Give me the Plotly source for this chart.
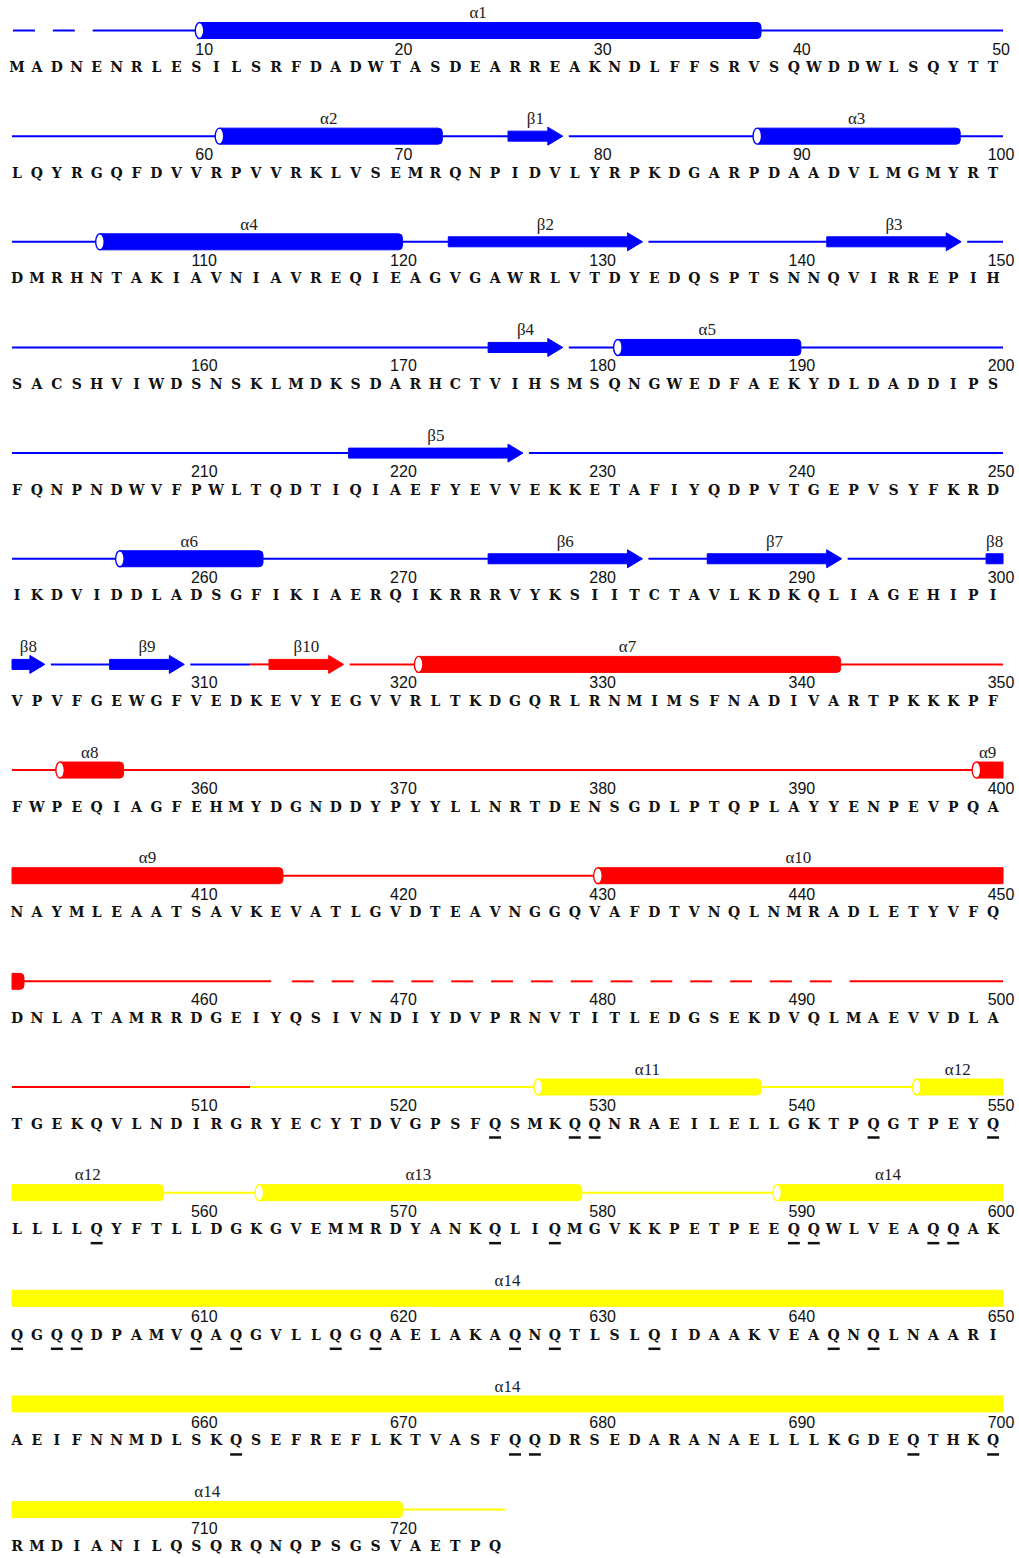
import plotly.graph_objects as go

# ---------------- data ----------------
seq_rows = [
    "MADNENRLESILSRFDADWTASDEARREAKNDLFFSRVSQWDDWLSQYTT",
    "LQYRGQFDVVRPVVRKLVSEMRQNPIDVLYRPKDGARPDAADVLMGMYRT",
    "DMRHNTAKIAVNIAVREQIEAGVGAWRLVTDYEDQSPTSNNQVIRREPIH",
    "SACSHVIWDSNSKLMDKSDARHCTVIHSMSQNGWEDFAEKYDLDADDIPS",
    "FQNPNDWVFPWLTQDTIQIAEFYEVVEKKETAFIYQDPVTGEPVSYFKRD",
    "IKDVIDDLADSGFIKIAERQIKRRRVYKSIITCTAVLKDKQLIAGEHIPI",
    "VPVFGEWGFVEDKEVYEGVVRLTKDGQRLRNMIMSFNADIVARTPKKKPF",
    "FWPEQIAGFEHMYDGNDDYPYYLLNRTDENSGDLPTQPLAYYENPEVPQA",
    "NAYMLEAATSAVKEVATLGVDTEAVNGGQVAFDTVNQLNMRADLETYVFQ",
    "DNLATAMRRDGEIYQSIVNDIYDVPRNVTITLEDGSEKDVQLMAEVVDLA",
    "TGEKQVLNDIRGRYECYTDVGPSFQSMKQQNRAEILELLGKTPQGTPEYQ",
    "LLLLQYFTLLDGKGVEMMRDYANKQLIQMGVKKPETPEEQQWLVEAQQAK",
    "QGQQDPAMVQAQGVLLQGQAELAKAQNQTLSLQIDAAKVEAQNQLNAARI",
    "AEIFNNMDLSKQSEFREFLKTVASFQQDRSEDARANAELLLKGDEQTHKQ",
    "RMDIANILQSQRQNQPSGSVAETPQ",
]

ss_names = ["α1", "α2", "β1", "α3", "α4", "β2", "β3", "β4", "α5", "β5", "α6", "β6",
            "β7", "β8", "β9", "β10", "α7", "α8", "α9", "α10", "α11", "α12", "α13", "α14"]
ss_kinds = ["H", "H", "E", "H", "H", "E", "E", "E", "H", "E", "H", "E",
            "E", "E", "E", "E", "H", "H", "H", "H", "H", "H", "H", "H"]
ss_start = [10, 61, 76, 88, 105, 123, 142, 175, 181, 218, 256, 275,
            286, 300, 306, 314, 321, 353, 399, 430, 527, 546, 563, 589]
ss_end = [38, 72, 78, 98, 120, 132, 148, 178, 190, 226, 263, 282,
          292, 302, 309, 317, 342, 356, 414, 451, 538, 558, 579, 720]

missing_start = [1, 465]
missing_end = [4, 492]

domain_first = [1, 313, 513]
domain_colors = ["#0000FF", "#FF0000", "#FFFF00"]

underlined = [525, 529, 530, 544, 550,
              555, 575, 578, 590, 591, 597, 598,
              601, 603, 604, 610, 612, 617, 619, 626, 628, 633, 642, 644,
              662, 676, 677, 696, 700,
              709, 711, 713, 715, 725]

# ---------------- geometry ----------------
PER_ROW = 50
PX = 19.92            # pixels per residue column
ROW_H = 105.65
Y_LINE = 30.5
Y_LABEL = 14.0
Y_NUM = 50.5
Y_SEQ = 68.5
ROW_START = 0.75
HELIX_HALF = 8
STRAND_HALF = 5
HEAD_HALF = 9
HEAD_LEN = 15 / PX
ELL_W = 8.5 / PX
H_OFF0, H_OFF1 = 0.05, 0.35
E_OFF0, E_OFF1 = 0.35, 0.4
TIP_GAP = 0.3
MIN_LABEL_W = 0.7

sequence = "".join(seq_rows)
n_rows = len(seq_rows)


def row_of(res):
    return (res - 1) // PER_ROW


def col_of(res):
    return (res - 1) % PER_ROW + 1


def row_end(r):
    return len(seq_rows[r]) + 0.5


def yline(r):
    return Y_LINE + r * ROW_H


def color_at(g):
    idx = 0
    for i, f in enumerate(domain_first):
        if g > f - 1 + 0.7:
            idx = i
    return domain_colors[idx]


shapes = []
label_x, label_y, label_t = [], [], []
exclusions = {r: [] for r in range(n_rows)}

for name, kind, s, e in zip(ss_names, ss_kinds, ss_start, ss_end):
    col = color_at(s)
    r0, r1 = row_of(s), row_of(e)
    for r in range(r0, r1 + 1):
        first = r == r0
        last = r == r1
        off0 = H_OFF0 if kind == "H" else E_OFF0
        off1 = H_OFF1 if kind == "H" else E_OFF1
        c0 = col_of(s) - off0 if first else ROW_START
        c1 = col_of(e) + off1 if last else row_end(r)
        yl = yline(r)
        if kind == "H":
            yt, yb = yl - HELIX_HALF, yl + HELIX_HALF
            xa = c0 + ELL_W / 2 if first else c0
            if last:
                rx = 4 / PX
                path = (f"M {xa},{yt} L {c1 - rx},{yt} Q {c1},{yt} {c1},{yt + 4} "
                        f"L {c1},{yb - 4} Q {c1},{yb} {c1 - rx},{yb} L {xa},{yb} Z")
            else:
                path = f"M {xa},{yt} L {c1},{yt} L {c1},{yb} L {xa},{yb} Z"
            shapes.append(dict(type="path", xref="x", yref="y", path=path,
                               fillcolor=col, line=dict(color=col, width=1)))
            if first:
                shapes.append(dict(type="circle", xref="x", yref="y",
                                   x0=c0, x1=c0 + ELL_W, y0=yt, y1=yb,
                                   fillcolor="white", line=dict(color=col, width=1.4)))
            exclusions[r].append((c0, c1))
        else:
            bt, bb = yl - STRAND_HALF, yl + STRAND_HALF
            if last:
                hx = c1 - HEAD_LEN
                path = (f"M {c0},{bt} L {hx},{bt} L {hx},{yl - HEAD_HALF} L {c1},{yl} "
                        f"L {hx},{yl + HEAD_HALF} L {hx},{bb} L {c0},{bb} Z")
                exclusions[r].append((c0, c1 + TIP_GAP))
            else:
                path = f"M {c0},{bt} L {c1},{bt} L {c1},{bb} L {c0},{bb} Z"
                exclusions[r].append((c0, c1))
            shapes.append(dict(type="path", xref="x", yref="y", path=path,
                               fillcolor=col, line=dict(color=col, width=1)))
        if c1 - c0 >= MIN_LABEL_W:
            label_x.append((c0 + c1) / 2)
            label_y.append(Y_LABEL + r * ROW_H)
            label_t.append(name)

# missing (dashed) regions
dash_segs = []
for s, e in zip(missing_start, missing_end):
    r = row_of(s)
    cs, ce = col_of(s), col_of(e)
    exclusions[r].append((cs - 1.25, ce + 0.8))
    d = cs - 0.2
    while d <= ce - 1.2 + 1e-9:
        dash_segs.append((r, d, d + 1.1))
        d += 2.0

# coil segments
line_xy = {c: ([], []) for c in domain_colors}


def add_seg(r, a, b):
    cuts = [a, b]
    for f in domain_first[1:]:
        bnd = f - 1 + 0.7 - r * PER_ROW
        if a < bnd < b:
            cuts.append(bnd)
    cuts = sorted(cuts)
    for u, v in zip(cuts[:-1], cuts[1:]):
        col = color_at(r * PER_ROW + (u + v) / 2)
        xs, ys = line_xy[col]
        xs += [u, v, None]
        ys += [yline(r), yline(r), None]


for r in range(n_rows):
    segs = [(ROW_START, row_end(r))]
    for (ea, eb) in sorted(exclusions[r]):
        new = []
        for (a, b) in segs:
            if eb <= a or ea >= b:
                new.append((a, b))
            else:
                if ea > a:
                    new.append((a, ea))
                if eb < b:
                    new.append((eb, b))
        segs = new
    for a, b in segs:
        if b - a > 0.02:
            add_seg(r, a, b)

for r, a, b in dash_segs:
    add_seg(r, a, b)

fig = go.Figure()
for col, (xs, ys) in line_xy.items():
    if xs:
        fig.add_trace(go.Scatter(x=xs, y=ys, mode="lines",
                                 line=dict(color=col, width=2), hoverinfo="skip"))

# sequence letters
sx, sy, st = [], [], []
for i, aa in enumerate(sequence):
    res = i + 1
    sx.append(col_of(res))
    sy.append(Y_SEQ + row_of(res) * ROW_H)
    st.append(aa)
fig.add_trace(go.Scatter(x=sx, y=sy, text=st, mode="text", cliponaxis=False,
                         textfont=dict(family="DejaVu Serif", size=14, color="#111111",
                                       weight="bold"),
                         hoverinfo="skip"))

# residue numbers
nx, ny, nt = [], [], []
for res in range(10, len(sequence) + 1, 10):
    nx.append(col_of(res) + 0.4)
    ny.append(Y_NUM + row_of(res) * ROW_H)
    nt.append(str(res))
fig.add_trace(go.Scatter(x=nx, y=ny, text=nt, mode="text", cliponaxis=False,
                         textfont=dict(family="Liberation Sans", size=16, color="#111111"),
                         hoverinfo="skip"))

# element labels
fig.add_trace(go.Scatter(x=label_x, y=label_y, text=label_t, mode="text", cliponaxis=False,
                         textfont=dict(family="Liberation Serif", size=17, color="#222222"),
                         hoverinfo="skip"))

# underlines
ux, uy = [], []
for res in underlined:
    c = col_of(res)
    yy = Y_SEQ + 12.5 + row_of(res) * ROW_H
    ux += [c - 0.3, c + 0.3, None]
    uy += [yy, yy, None]
fig.add_trace(go.Scatter(x=ux, y=uy, mode="lines", line=dict(color="#111111", width=2.5),
                         hoverinfo="skip"))

fig.update_layout(
    width=1019, height=1558,
    margin=dict(l=0, r=0, t=0, b=0),
    paper_bgcolor="white", plot_bgcolor="white",
    showlegend=False, hovermode=False,
    shapes=shapes,
    xaxis=dict(visible=False, range=[1 - 17 / PX, 1 - 17 / PX + 1019 / PX], fixedrange=True),
    yaxis=dict(visible=False, range=[1558, 0], fixedrange=True),
)

fig.write_html("out.html", config={"displayModeBar": False, "staticPlot": True},
               post_script="document.body.style.margin='0px';")
